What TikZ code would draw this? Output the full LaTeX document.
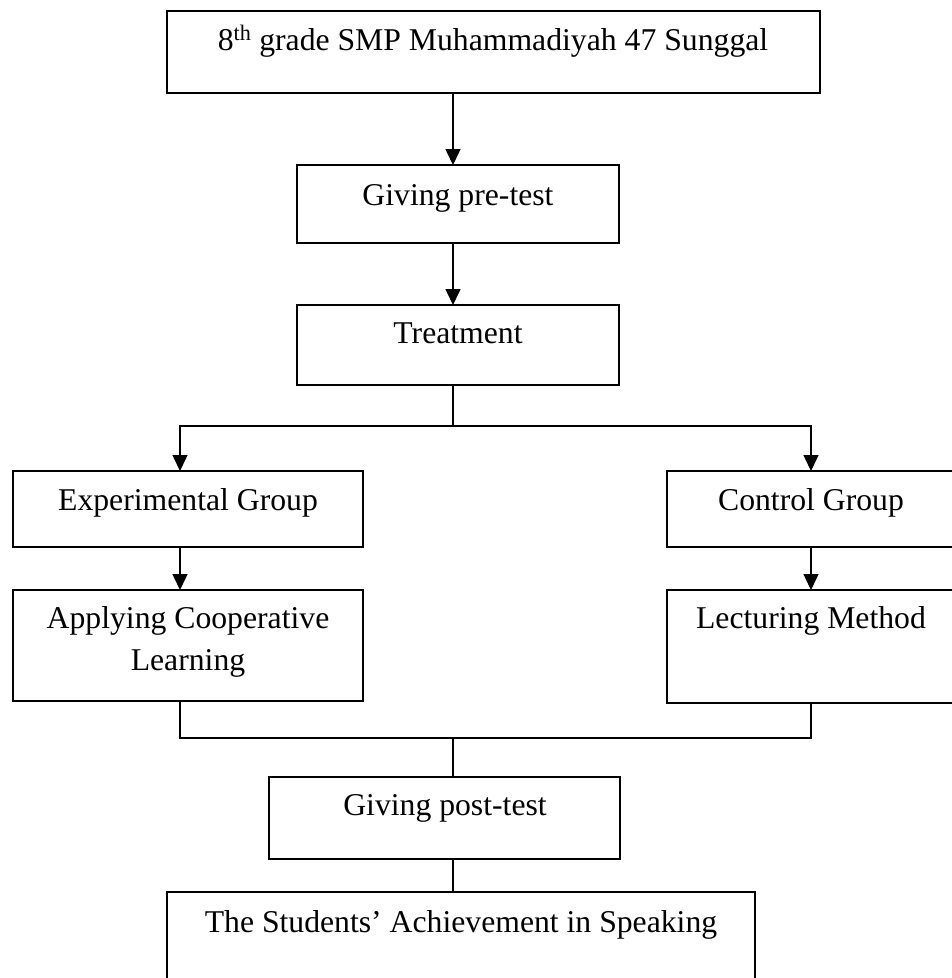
\documentclass[tikz,border=0pt]{standalone}
\usepackage{fontspec}
\setmainfont{Liberation Serif}
\usetikzlibrary{arrows.meta}
\begin{document}
\begin{tikzpicture}[x=1pt,y=-1pt,
  box/.style={draw, line width=1.5pt, rectangle, inner sep=0pt, outer sep=0pt, anchor=north west},
  txt/.style={anchor=base, inner sep=0pt, font=\fontsize{31.7pt}{42pt}\selectfont, align=center},
  conn/.style={line width=1.5pt, line join=miter},
  arr/.style={conn, -{Triangle[width=15pt,length=16pt]}}]
\useasboundingbox (0,0) rectangle (952,978);
\clip (0,0) rectangle (952,978);
% boxes
\node[box, minimum width=653pt, minimum height=82pt] (b1) at (167,11) {};
\node[box, minimum width=322pt, minimum height=78pt] (b2) at (297,165) {};
\node[box, minimum width=322pt, minimum height=80pt] (b3) at (297,305) {};
\node[box, minimum width=350pt, minimum height=76pt] (b4) at (13,471) {};
\node[box, minimum width=288pt, minimum height=76pt] (b5) at (667,471) {};
\node[box, minimum width=350pt, minimum height=111pt] (b6) at (13,590) {};
\node[box, minimum width=288pt, minimum height=113pt] (b7) at (667,590) {};
\node[box, minimum width=351pt, minimum height=82pt] (b8) at (269,777) {};
\node[box, minimum width=588pt, minimum height=120pt] (b9) at (167,892) {};
% texts
\node[txt] (t1) at (493,50) {8\textsuperscript{th} grade SMP Muhammadiyah 47 Sunggal};
\node[txt] (t2) at (458,205) {Giving pre-test};
\node[txt] (t3) at (458,343) {Treatment};
\node[txt] (t4) at (188,510) {Experimental Group};
\node[txt] (t5) at (811,510) {Control Group};
\node[txt] (t6) at (188,670) {Applying Cooperative\\Learning};
\node[txt] (t7) at (811,628) {Lecturing Method};
\node[txt] (t8) at (445,815) {Giving post-test};
\node[txt] (t9) at (461,932) {The Students’ Achievement in Speaking};
% junctions
\coordinate (jt) at (453,426);
\coordinate (jb) at (453,738);
\coordinate (xl) at (180,0);
\coordinate (xr) at (811,0);
% connectors
\draw[arr] (b1.south -| jt) -- (b2.north -| jt);
\draw[arr] (b2.south -| jt) -- (b3.north -| jt);
\draw[conn] (b3.south -| jt) -- (jt);
\draw[arr] (jt) -| (b4.north -| xl);
\draw[arr] (jt) -| (b5.north -| xr);
\draw[arr] (b4.south -| xl) -- (b6.north -| xl);
\draw[arr] (b5.south -| xr) -- (b7.north -| xr);
\draw[conn] (b6.south -| xl) |- (jb);
\draw[conn] (b7.south -| xr) |- (jb);
\draw[conn] (jb) -- (b8.north -| jb);
\draw[conn] (b8.south -| jb) -- (b9.north -| jb);
\end{tikzpicture}
\end{document}
